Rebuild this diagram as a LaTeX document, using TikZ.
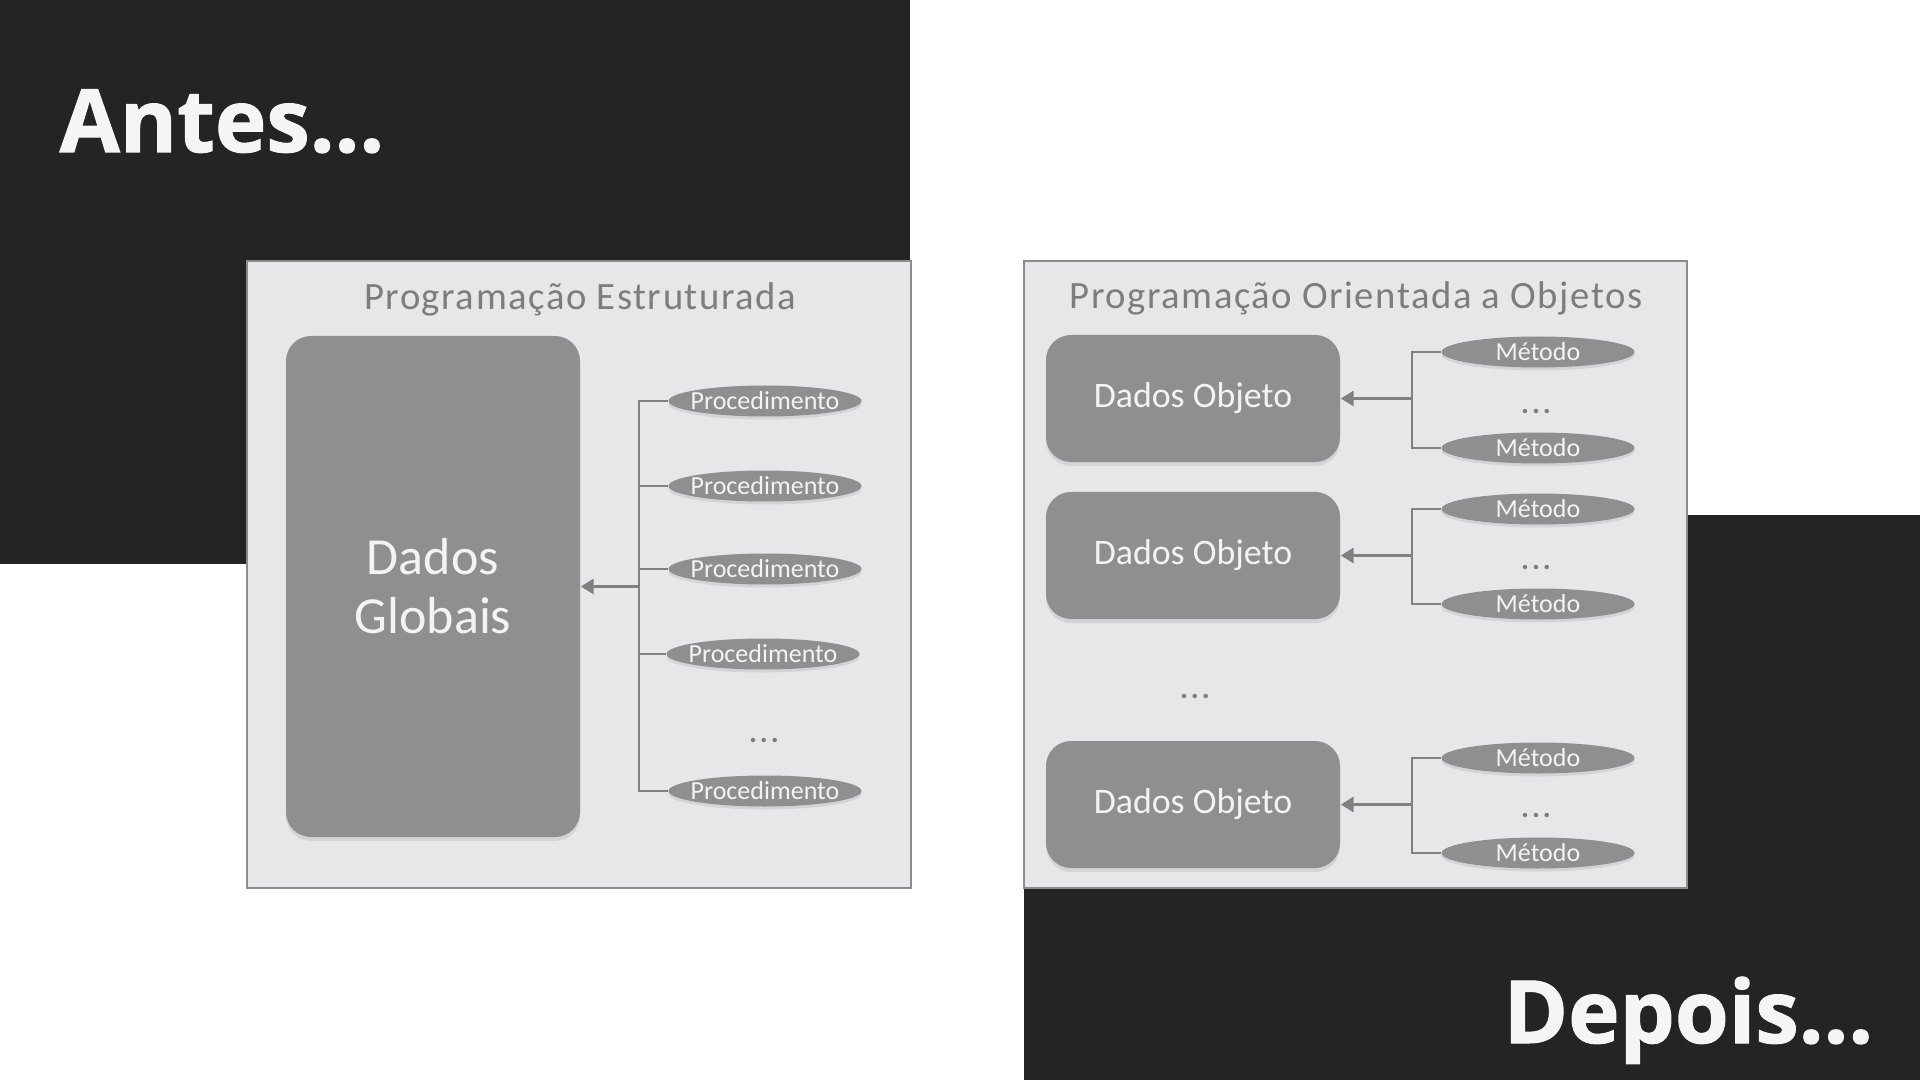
\documentclass[tikz,border=0pt]{standalone}
\usepackage{fontspec}
\setmainfont{Carlito}
\newfontfamily\headfont{Open Sans}[BoldFeatures={FakeBold=1.2}]
\newfontfamily\trackfont{Carlito}[LetterSpace=4]
\newfontfamily\dotfont{Carlito}[LetterSpace=10]
\usetikzlibrary{shapes,arrows.meta,positioning,calc,shadows}

\definecolor{darkbg}{RGB}{36,36,36}
\definecolor{panelfill}{RGB}{231,231,233}
\definecolor{panelline}{RGB}{140,140,140}
\definecolor{boxgray}{RGB}{143,143,143}
\definecolor{linegray}{RGB}{128,128,128}
\definecolor{titlegray}{RGB}{125,125,125}
\definecolor{boxtext}{RGB}{243,243,243}

\begin{document}
\begin{tikzpicture}[y=-1cm, >=Stealth,
    heading/.style={text=white!96!black, inner sep=0pt, font=\headfont\bfseries\fontsize{24.8}{28}\selectfont},
    panel/.style={rectangle, draw=panelline, line width=0.6pt, fill=panelfill, inner sep=0pt},
    paneltitle/.style={text=titlegray, inner sep=0pt, font=\trackfont\fontsize{11}{13}\selectfont},
    databox/.style={rectangle, rounded corners=0.25cm, fill=boxgray, text=boxtext, inner sep=0pt,
        drop shadow={opacity=0.18, shadow xshift=0cm, shadow yshift=-0.04cm}},
    oval/.style={ellipse, fill=boxgray, minimum width=1.93cm, minimum height=0.31cm, inner sep=0pt,
        drop shadow={opacity=0.18, shadow xshift=0cm, shadow yshift=-0.03cm},
        label={[ovaltext]center:#1}},
    ovaltext/.style={text=boxtext, inner sep=0pt, font=\fontsize{7.4}{8}\selectfont},
    dots/.style={text=titlegray, inner sep=0pt, font=\dotfont\bfseries\fontsize{8.5}{9}\selectfont},
    bus/.style={draw=linegray, line width=0.6pt},
    feed/.style={draw=linegray, line width=0.9pt, -{Triangle[length=0.13cm, width=0.15cm]}}]

    \useasboundingbox (0,0) rectangle (19.2,10.8);
    \fill[white] (0,0) rectangle (19.2,10.8);

    % dark corners
    \fill[darkbg] (0,0) rectangle (9.10,5.64);
    \fill[darkbg] (10.24,5.15) rectangle (19.2,10.8);

    \node[heading, anchor=base west] (antes) at (0.59,1.52) {Antes...};
    \node[heading, anchor=base east] (depois) at (18.74,10.43) {Depois...};

    % structured
    \node[panel, minimum width=6.64cm, minimum height=6.27cm] (estr) at (5.79,5.745) {};
    \node[paneltitle] (estrtitle) at (5.80,2.99) {Programação Estruturada};
    \node[databox, minimum width=2.94cm, minimum height=5.01cm, align=center,
        font=\fontsize{14.8}{16.8}\selectfont] (glob) at (4.33,5.865) {Dados\\Globais};

    \node[oval=Procedimento] (p1) at (7.65,4.01) {};
    \node[oval=Procedimento] (p2) at (7.65,4.86) {};
    \node[oval=Procedimento] (p3) at (7.65,5.69) {};
    \node[oval=Procedimento] (p4) at (7.63,6.54) {};
    \node[dots] (pdots) at (7.64,7.40) {...};
    \node[oval=Procedimento] (p5) at (7.65,7.91) {};

    \coordinate (pbus) at (6.39,4.01);
    \draw[bus] (p1.west) -| (pbus |- p5.west) -- (p5.west);
    \foreach \i in {2,3,4}
        \draw[bus] (p\i.west) -- (p\i.west -| pbus);
    \draw[feed] (pbus |- glob.east) -- (glob.east);

    % object oriented
    \node[panel, minimum width=6.63cm, minimum height=6.27cm] (oo) at (13.555,5.745) {};
    \node[paneltitle] (ootitle) at (13.56,2.98) {Programação Orientada a Objetos};

    \foreach \n/\y/\ya/\yb/\yd in {1/3.985/3.52/4.48/4.12, 2/5.555/5.09/6.04/5.68, 3/8.045/7.58/8.53/8.15} {
        \node[databox, minimum width=2.94cm, minimum height=1.27cm,
            font=\fontsize{10.2}{12}\selectfont] (obj\n) at (11.93,\y) {Dados Objeto};
        \node[oval=Método] (ma\n) at (15.38,\ya) {};
        \node[oval=Método] (mb\n) at (15.38,\yb) {};
        \node[dots] (md\n) at (15.36,\yd) {...};
        \coordinate (mbus\n) at (14.12,\y);
        \draw[bus] (ma\n.west) -| (mbus\n) |- (mb\n.west);
        \draw[feed] (mbus\n) -- (obj\n.east);
    }
    \node[dots] (objdots) at (11.95,6.96) {...};
\end{tikzpicture}
\end{document}
